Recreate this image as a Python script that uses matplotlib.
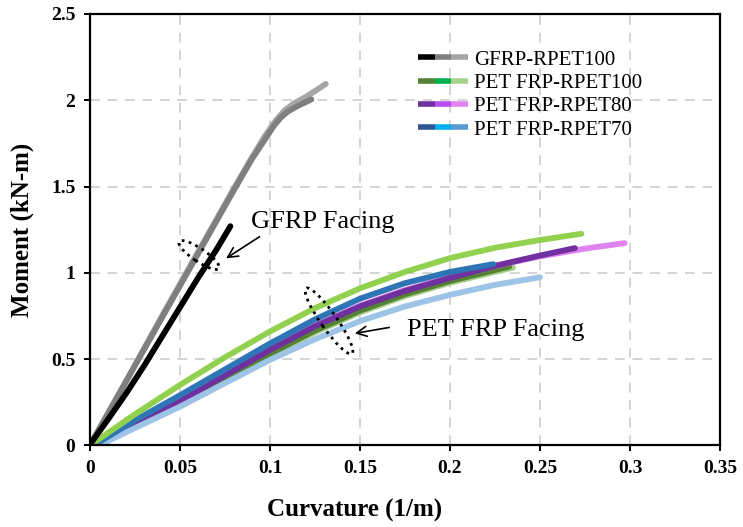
import numpy as np
import matplotlib
matplotlib.use('Agg')
import matplotlib.pyplot as plt
from matplotlib.lines import Line2D
from matplotlib.legend_handler import HandlerTuple
from matplotlib.patches import Ellipse
from matplotlib.ticker import FuncFormatter

plt.rcParams['font.family'] = ['Liberation Serif', 'DejaVu Serif']

# GFRP facing specimens
gfrp1_x = [0.001, 0.01, 0.02, 0.03, 0.04, 0.05, 0.06, 0.07, 0.078]
gfrp1_y = [0.02, 0.15, 0.30, 0.46, 0.63, 0.80, 0.97, 1.13, 1.27]
gfrp2_x = [0, 0.02, 0.04, 0.06, 0.08, 0.09, 0.097, 0.102, 0.106, 0.11, 0.115, 0.12, 0.123]
gfrp2_y = [0, 0.37, 0.74, 1.11, 1.48, 1.66, 1.77, 1.85, 1.90, 1.935, 1.965, 1.99, 2.005]
gfrp3_x = [0, 0.02, 0.04, 0.06, 0.08, 0.09, 0.097, 0.103, 0.108, 0.113, 0.12, 0.126, 0.131]
gfrp3_y = [0, 0.37, 0.75, 1.12, 1.49, 1.67, 1.79, 1.88, 1.94, 1.98, 2.02, 2.06, 2.095]

# PET FRP facing, RPET100
r100a_x = [0.003, 0.025, 0.05, 0.075, 0.1, 0.125, 0.15, 0.175, 0.2, 0.233]
r100a_y = [0.0, 0.115, 0.245, 0.39, 0.53, 0.665, 0.78, 0.875, 0.952, 1.036]
r100c_x = [0.005, 0.025, 0.05, 0.075, 0.1, 0.125, 0.15, 0.175, 0.2, 0.235]
r100c_y = [0.0, 0.11, 0.238, 0.38, 0.52, 0.655, 0.77, 0.865, 0.942, 1.03]
r100b_x = [0, 0.025, 0.05, 0.075, 0.1, 0.125, 0.15, 0.175, 0.2, 0.225, 0.25, 0.273]
r100b_y = [0, 0.18, 0.35, 0.51, 0.66, 0.795, 0.91, 1.005, 1.085, 1.145, 1.19, 1.226]

# RPET80
r80a_x = [0.003, 0.025, 0.05, 0.075, 0.1, 0.125, 0.15, 0.175, 0.2, 0.225, 0.25, 0.2694]
r80a_y = [0.0, 0.12, 0.255, 0.405, 0.553, 0.69, 0.805, 0.895, 0.97, 1.04, 1.10, 1.143]
r80c_x = [0.003, 0.025, 0.05, 0.075, 0.1, 0.125, 0.15, 0.175, 0.2, 0.225, 0.25, 0.275, 0.297]
r80c_y = [0.0, 0.125, 0.26, 0.41, 0.56, 0.695, 0.81, 0.90, 0.975, 1.04, 1.095, 1.14, 1.172]

# RPET70
r70a_x = [0.002, 0.025, 0.05, 0.075, 0.1, 0.125, 0.15, 0.175, 0.2, 0.224]
r70a_y = [0.0, 0.145, 0.29, 0.44, 0.59, 0.73, 0.85, 0.94, 1.005, 1.05]
r70c_x = [0.005, 0.025, 0.05, 0.075, 0.1, 0.125, 0.15, 0.175, 0.2, 0.225, 0.25]
r70c_y = [0.0, 0.10, 0.224, 0.36, 0.495, 0.615, 0.72, 0.805, 0.872, 0.93, 0.974]

fig = plt.figure(figsize=(7.43, 5.27), dpi=100)
ax = fig.add_axes([90/743, (527-445.3)/527, 630/743, 431.3/527])

lw = 4.2
ax.plot(r100c_x, r100c_y, color='#a9d18e', lw=lw, solid_capstyle='round')
ax.plot(r100a_x, r100a_y, color='#548235', lw=lw, solid_capstyle='round')
ax.plot(r80c_x, r80c_y, color='#e085f0', lw=lw, solid_capstyle='round')
ax.plot(r80a_x, r80a_y, color='#7030a0', lw=lw, solid_capstyle='round')
ax.plot(r70c_x, r70c_y, color='#9dc3e6', lw=lw, solid_capstyle='round')
ax.plot(r70a_x, r70a_y, color='#2e75b6', lw=lw, solid_capstyle='round')
ax.plot(r100b_x, r100b_y, color='#92d050', lw=lw, solid_capstyle='round')
ax.plot(gfrp3_x, gfrp3_y, color='#a6a6a6', lw=lw, solid_capstyle='round')
ax.plot(gfrp2_x, gfrp2_y, color='#7f7f7f', lw=lw, solid_capstyle='round')
ax.plot(gfrp1_x, gfrp1_y, color='black', lw=lw, solid_capstyle='round')

ax.set_xlim(0, 0.35)
ax.set_ylim(0, 2.5)
ax.set_xticks(np.arange(0, 0.351, 0.05))
ax.set_yticks(np.arange(0, 2.51, 0.5))
fmt = FuncFormatter(lambda v, p: '%g' % round(v, 2))
ax.xaxis.set_major_formatter(fmt)
ax.yaxis.set_major_formatter(fmt)
ax.grid(True, color='#d4d4d4', ls=(0, (5, 4)), lw=1.4)
ax.set_axisbelow(True)
for s in ax.spines.values():
    s.set_linewidth(1.6)
ax.tick_params(direction='out', length=4.5, width=1.4, labelsize=14, pad=6)
for t in ax.get_xticklabels() + ax.get_yticklabels():
    t.set_fontweight('bold')

ax.set_xlabel('Curvature (1/m)', fontsize=18, fontweight='bold', labelpad=10)
ax.xaxis.set_label_coords((355-90)/630, -0.125)
ax.set_ylabel('Moment (kN-m)', fontsize=18, fontweight='bold', labelpad=12)

# legend with three-specimen handles
def trio(colors):
    return tuple(Line2D([], [], color=c, lw=4, solid_capstyle='butt') for c in colors)

handles = [trio(['#000000', '#7f7f7f', '#a6a6a6']),
           trio(['#548235', '#00b050', '#a9d18e']),
           trio(['#7030a0', '#b84cf5', '#e085f0']),
           trio(['#2f5597', '#00b0f0', '#5b9bd5'])]
labels = ['GFRP-RPET100', 'PET FRP-RPET100', 'PET FRP-RPET80', 'PET FRP-RPET70']
ax.legend(handles, labels, handler_map={tuple: HandlerTuple(ndivide=None, pad=0)},
          loc='upper left', bbox_to_anchor=((418-90)/630, (445.3-50)/431.3),
          frameon=False, fontsize=15, handlelength=2.4, handletextpad=0.3,
          labelspacing=0.18, borderpad=0, borderaxespad=0)

# annotations
ax.annotate('', xy=(0.0743, 1.075), xytext=(0.0955, 1.218),
            arrowprops=dict(arrowstyle='->', lw=1.2, color='black', mutation_scale=18))
ax.text(0.1294, 1.295, 'GFRP Facing', fontsize=19, ha='center', va='center')
ax.annotate('', xy=(0.1456, 0.646), xytext=(0.1678, 0.686),
            arrowprops=dict(arrowstyle='->', lw=1.2, color='black', mutation_scale=18))
ax.text(0.2256, 0.669, 'PET FRP Facing', fontsize=19, ha='center', va='center')


def dotted_ellipse(cx, cy, w, h, ang):
    e = Ellipse((cx/100, (527-cy)/100), w/100, h/100, angle=ang,
                transform=fig.dpi_scale_trans, fill=False, ls=(0, (1, 1.6)),
                lw=2, color='black')
    fig.add_artist(e)


dotted_ellipse(199, 255, 48, 13, -34)
dotted_ellipse(329, 321, 80, 16, -55)

fig.savefig('out.png', dpi=100)
